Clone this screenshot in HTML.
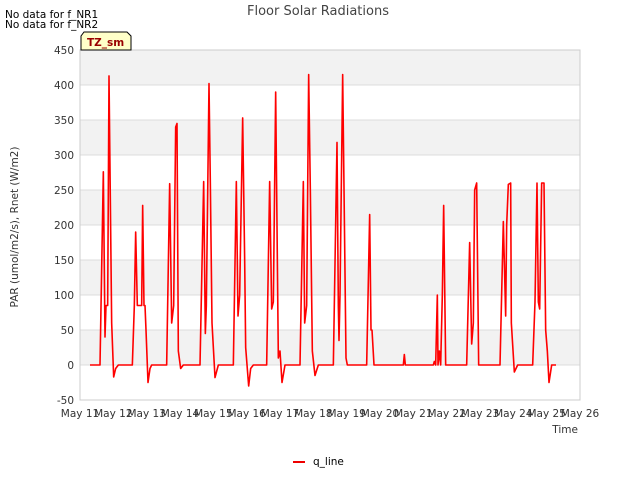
<!DOCTYPE html>
<html><head><meta charset="utf-8"><style>
body{margin:0;background:#fff;font-family:"Liberation Sans","DejaVu Sans",sans-serif}
svg text{font-family:"DejaVu Sans","Liberation Sans",sans-serif}
</style></head><body>
<svg id="c" width="640" height="480" xmlns="http://www.w3.org/2000/svg">
<text x="5" y="18" font-size="10.5">No data for f_NR1</text>
<text x="5" y="28" font-size="10.5">No data for f_NR2</text>
<text x="318" y="15" font-size="13" fill="#444" text-anchor="middle">Floor Solar Radiations</text>
<g id="plot"></g>
<text x="18" y="227" font-size="10.5" fill="#333" text-anchor="middle" transform="rotate(-90 18 227)">PAR (umol/m2/s), Rnet (W/m2)</text>
<text x="578" y="433" font-size="10.5" fill="#333" text-anchor="end">Time</text>
<g>
<line x1="293" y1="462" x2="305" y2="462" stroke="#e00" stroke-width="2"/>
<text x="313" y="465" font-size="10.5">q_line</text>
</g>
<g>
<path d="M81,50 L81,36 L84,32 L127,32 L131,36 L131,50 Z" fill="#ffffc8" stroke="#000" stroke-width="1"/>
<text x="87" y="46" font-size="10.5" font-weight="bold" fill="#900">TZ_sm</text>
</g>
</svg>
<script>
const yTicks=[-50,0,50,100,150,200,250,300,350,400,450];
const xTickLabels=["May 11","May 12","May 13","May 14","May 15","May 16","May 17","May 18","May 19","May 20","May 21","May 22","May 23","May 24","May 25","May 26"];
const tDays=[0.3,0.6,0.70,0.75,0.78,0.83,0.87,0.95,1.01,1.07,1.15,
1.57,1.63,1.67,1.72,1.85,1.88,1.92,1.95,1.98,2.04,2.10,2.15,
2.60,2.69,2.75,2.81,2.87,2.91,2.95,3.02,3.10,
3.60,3.71,3.76,3.79,3.87,3.91,3.96,4.05,4.15,
4.60,4.69,4.74,4.79,4.88,4.94,4.97,5.06,5.12,5.20,
5.60,5.69,5.75,5.80,5.87,5.95,6.00,6.06,6.15,
6.60,6.70,6.74,6.80,6.86,6.91,6.97,7.05,7.15,
7.60,7.71,7.75,7.77,7.80,7.88,7.98,8.02,
8.60,8.69,8.73,8.76,8.82,
9.70,9.73,9.76,
10.60,10.63,10.67,10.72,10.74,10.78,10.82,10.87,10.91,10.97,
11.60,11.69,11.75,11.80,11.84,11.90,11.96,
12.60,12.70,12.77,12.80,12.85,12.92,12.94,13.03,13.13,
13.58,13.65,13.71,13.75,13.79,13.85,13.92,13.97,14.02,14.07,14.15,14.28];
const qLine=[0,0,276,40,85,85,413,60,-17,-5,0,
0,85,190,85,85,228,85,85,50,-25,-5,0,
0,259,60,85,340,345,20,-5,0,
0,262,45,85,402,260,60,-18,0,
0,262,70,100,353,150,25,-30,-5,0,
0,262,80,90,390,10,20,-25,0,
0,262,60,85,415,250,20,-15,0,
0,318,85,35,100,415,10,0,
0,215,50,50,0,
0,15,0,
0,5,0,100,0,20,0,100,228,0,
0,175,30,60,250,260,0,
0,205,70,200,258,260,60,-10,0,
0,90,260,90,80,260,260,50,20,-25,0,0];
const L=80,R=580,T=50,B=400,NS="http://www.w3.org/2000/svg";
const yS=v=>B-(v+50)/500*(B-T);
const xS=d=>L+d/15*(R-L);
const g=document.getElementById('plot');
function mk(t,a){const e=document.createElementNS(NS,t);for(const k in a)e.setAttribute(k,a[k]);g.appendChild(e);return e;}
for(let v=0;v<450;v+=100){
const r=mk('rect',{x:L,y:yS(v+50),width:R-L,height:yS(v)-yS(v+50),fill:'#f2f2f2'});

}
yTicks.forEach(v=>{
const l=mk('line',{x1:L,x2:R,y1:yS(v),y2:yS(v),stroke:'#dcdcdc','stroke-width':1});


const t=mk('text',{x:L-6,y:yS(v)+4,'font-size':10.5,'text-anchor':'end',fill:'#333'});
t.textContent=v;

});
const fr=mk('rect',{x:L,y:T,width:R-L,height:B-T,fill:'none',stroke:'#ccc'});


xTickLabels.forEach((s,i)=>{
const t=mk('text',{x:xS(i),y:B+17,'font-size':10.5,'text-anchor':'middle',fill:'#333'});
t.textContent=s;

});
const p=mk('polyline',{points:tDays.map((d,i)=>xS(d)+','+yS(qLine[i])).join(' '),fill:'none',stroke:'#f00','stroke-width':1.6,'stroke-linejoin':'round'});


</script>
</body></html>
